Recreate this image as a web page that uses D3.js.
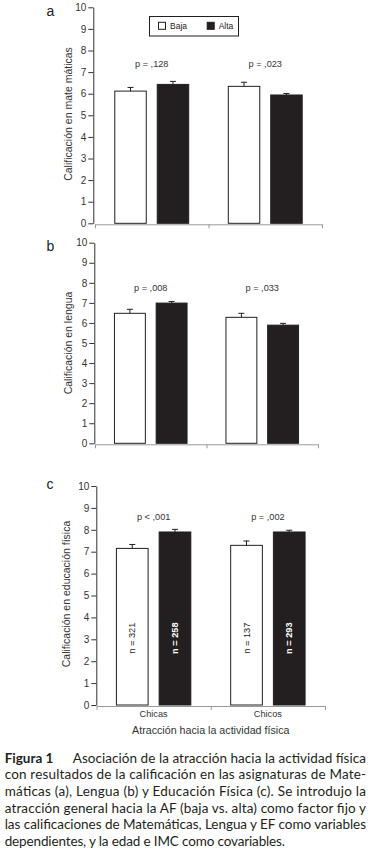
<!DOCTYPE html>
<html>
<head>
<meta charset="utf-8">
<script src="https://cdn.jsdelivr.net/npm/d3@7"></script>
<style>
  body { margin: 0; background: #fff; }
  svg { display: block; }
</style>
</head>
<body>
<script>
var groups = ['Chicas', 'Chicos'];
var levels = ['Baja', 'Alta'];
var yTicks = [0, 1, 2, 3, 4, 5, 6, 7, 8, 9, 10];

// order: Chicas-Baja, Chicas-Alta, Chicos-Baja, Chicos-Alta
var matMeans = [6.12, 6.43, 6.34, 5.94];
var matErr = [0.17, 0.14, 0.19, 0.07];
var lenMeans = [6.48, 6.99, 6.28, 5.89];
var lenErr = [0.20, 0.08, 0.20, 0.09];
var efMeans = [7.15, 7.90, 7.29, 7.90];
var efErr = [0.18, 0.12, 0.20, 0.08];

var matP = ['p = ,128', 'p = ,023'];
var lenP = ['p = ,008', 'p = ,033'];
var efP = ['p < ,001', 'p = ,002'];
var nCounts = [321, 258, 137, 293];

var yTitles = ['Calificación en mate máticas', 'Calificación en lengua', 'Calificación en educación física'];
var xTitle = 'Atracción hacia la actividad física';
var captionHead = 'Figura 1';
var captionLines = [
  'Asociación de la atracción hacia la actividad física',
  'con resultados de la calificación en las asignaturas de Mate-',
  'máticas (a), Lengua (b) y Educación Física (c). Se introdujo la',
  'atracción general hacia la AF (baja vs. alta) como factor fijo y',
  'las calificaciones de Matemáticas, Lengua y EF como variables',
  'dependientes, y la edad e IMC como covariables.'
];

var ink = '#231f20';
var font = 'Liberation Sans, Arial, sans-serif';

var svg = d3.select('body')
  .append('svg')
  .attr('width', 372)
  .attr('height', 851);

var panels = [
  { letter: 'a', title: yTitles[0], means: matMeans, err: matErr, p: matP,
    top: 7.3, bottom: 223.3, axisX: 93.3, left: 95, right: 322,
    titleX: 68, titleY: 114, letterY: 15.7, pY: 7.25 },
  { letter: 'b', title: yTitles[1], means: lenMeans, err: lenErr, p: lenP,
    top: 242.7, bottom: 443.3, axisX: 94.3, left: 95, right: 318,
    titleX: 68, titleY: 343, letterY: 250.5, pY: 7.6 },
  { letter: 'c', title: yTitles[2], means: efMeans, err: efErr, p: efP,
    top: 486, bottom: 705, axisX: 96.3, left: 96.5, right: 325,
    titleX: 66.7, titleY: 594, letterY: 488.5, pY: 8.45 }
];

panels.forEach(function (p, pi) {
  var g = svg.append('g');

  var y = d3.scaleLinear().domain([0, 10]).range([p.bottom, p.top]);
  var x = d3.scaleBand().domain(groups).range([p.left, p.right]);
  var xi = d3.scaleBand()
    .domain(levels)
    .range([x.bandwidth() * 0.17, x.bandwidth() * 0.83])
    .paddingInner(0.235);

  var rows = p.means.map(function (m, i) {
    return {
      group: groups[Math.floor(i / 2)],
      level: levels[i % 2],
      mean: m,
      err: p.err[i],
      n: nCounts[i]
    };
  });

  // x axis (grey)
  var xa = g.append('g')
    .attr('transform', 'translate(0,' + (p.bottom + 1) + ')')
    .call(d3.axisBottom(d3.scaleLinear().domain([0, 2]).range([p.left, p.right]))
      .tickValues([0, 1, 2]).tickFormat('').tickSize(4).tickSizeOuter(0));
  xa.selectAll('path, line').attr('stroke', '#9a9a9a');

  // y axis
  var ya = g.append('g')
    .attr('transform', 'translate(' + p.axisX + ',0)')
    .call(d3.axisLeft(y).tickValues(yTicks).tickSize(5).tickSizeOuter(0).tickPadding(2));
  ya.selectAll('path, line').attr('stroke', '#333');
  ya.selectAll('text')
    .attr('fill', '#333')
    .style('font-family', font)
    .style('font-size', '10px');

  // bars
  g.selectAll('rect.bar')
    .data(rows)
    .enter()
    .append('rect')
    .attr('class', 'bar')
    .attr('x', function (d) { return x(d.group) + xi(d.level) + 0.5; })
    .attr('y', function (d) { return y(d.mean); })
    .attr('width', xi.bandwidth() - 1)
    .attr('height', function (d) { return y(0) - y(d.mean); })
    .attr('fill', function (d) { return d.level === 'Baja' ? '#fff' : ink; })
    .attr('stroke', ink)
    .attr('stroke-width', 1);

  // error bars
  var eb = g.selectAll('g.err')
    .data(rows)
    .enter()
    .append('g')
    .attr('class', 'err')
    .attr('stroke', ink)
    .attr('stroke-width', 1);
  eb.append('line')
    .attr('x1', function (d) { return x(d.group) + xi(d.level) + xi.bandwidth() / 2; })
    .attr('x2', function (d) { return x(d.group) + xi(d.level) + xi.bandwidth() / 2; })
    .attr('y1', function (d) { return y(d.mean); })
    .attr('y2', function (d) { return y(d.mean + d.err); });
  eb.append('line')
    .attr('x1', function (d) { return x(d.group) + xi(d.level) + xi.bandwidth() / 2 - 3; })
    .attr('x2', function (d) { return x(d.group) + xi(d.level) + xi.bandwidth() / 2 + 3; })
    .attr('y1', function (d) { return y(d.mean + d.err); })
    .attr('y2', function (d) { return y(d.mean + d.err); });

  // p values
  g.selectAll('text.pval')
    .data(groups)
    .enter()
    .append('text')
    .attr('class', 'pval')
    .attr('x', function (d) { return x(d) + x.bandwidth() / 2; })
    .attr('y', y(p.pY))
    .attr('text-anchor', 'middle')
    .attr('fill', '#333')
    .style('font-family', font)
    .style('font-size', '9.2px')
    .text(function (d, i) { return p.p[i]; });

  // panel letter
  g.append('text')
    .attr('x', 46.5)
    .attr('y', p.letterY)
    .attr('fill', '#222')
    .style('font-family', font)
    .style('font-size', '14px')
    .text(p.letter);

  // y title
  g.append('text')
    .attr('transform', 'translate(' + p.titleX + ',' + p.titleY + ') rotate(-90)')
    .attr('text-anchor', 'middle')
    .attr('dy', '0.35em')
    .attr('fill', '#333')
    .style('font-family', font)
    .style('font-size', '10.5px')
    .text(p.title);

  if (pi === 0) {
    var lg = g.append('g');
    lg.append('rect')
      .attr('x', 149.5).attr('y', 16.5).attr('width', 89).attr('height', 19.5)
      .attr('fill', '#fff').attr('stroke', ink);
    var items = lg.selectAll('g.item')
      .data(levels)
      .enter()
      .append('g')
      .attr('transform', function (d, i) { return 'translate(' + (158 + i * 48.7) + ',21.8)'; });
    items.append('rect')
      .attr('x', 0.5).attr('y', 0.5).attr('width', 7).attr('height', 7)
      .attr('fill', function (d) { return d === 'Baja' ? '#fff' : ink; })
      .attr('stroke', ink);
    items.append('text')
      .attr('x', 12)
      .attr('y', 7)
      .attr('fill', '#222')
      .style('font-family', font)
      .style('font-size', '8.5px')
      .text(function (d) { return d; });
  }

  if (pi === 2) {
    // n counts inside bars
    g.selectAll('text.n')
      .data(rows)
      .enter()
      .append('text')
      .attr('class', 'n')
      .attr('transform', function (d) {
        return 'translate(' + (x(d.group) + xi(d.level) + xi.bandwidth() / 2) + ',' + y(3.05) + ') rotate(-90)';
      })
      .attr('text-anchor', 'middle')
      .attr('dy', '0.35em')
      .attr('fill', function (d) { return d.level === 'Baja' ? '#222' : '#fff'; })
      .style('font-family', font)
      .style('font-size', '9.2px')
      .style('font-weight', function (d) { return d.level === 'Baja' ? 'normal' : 'bold'; })
      .text(function (d) { return 'n = ' + d.n; });

    g.selectAll('text.cat')
      .data(groups)
      .enter()
      .append('text')
      .attr('class', 'cat')
      .attr('x', function (d) { return x(d) + x.bandwidth() / 2; })
      .attr('y', 716.5)
      .attr('text-anchor', 'middle')
      .attr('fill', '#333')
      .style('font-family', font)
      .style('font-size', '9.2px')
      .text(function (d) { return d; });

    g.append('text')
      .attr('x', (p.left + p.right) / 2)
      .attr('y', 734)
      .attr('text-anchor', 'middle')
      .attr('fill', '#333')
      .style('font-family', font)
      .style('font-size', '10.7px')
      .text(xTitle);
  }
});

// caption
var cap = svg.append('g')
  .attr('fill', ink)
  .style('font-family', 'Lato, sans-serif')
  .style('font-size', '13.5px');

cap.append('text')
  .attr('x', 4.7)
  .attr('y', 762.5)
  .style('font-weight', 'bold')
  .text(captionHead);

cap.selectAll('text.line')
  .data(captionLines)
  .enter()
  .append('text')
  .attr('class', 'line')
  .attr('x', function (d, i) { return i === 0 ? 72.7 : 4.7; })
  .attr('y', function (d, i) { return 762.5 + i * 16.7; })
  .attr('textLength', function (d, i) {
    if (i === 0) return 366 - 72.7;
    if (i === captionLines.length - 1) return 285 - 4.7;
    return 366 - 4.7;
  })
  .attr('lengthAdjust', 'spacing')
  .text(function (d) { return d; });
</script>
</body>
</html>
